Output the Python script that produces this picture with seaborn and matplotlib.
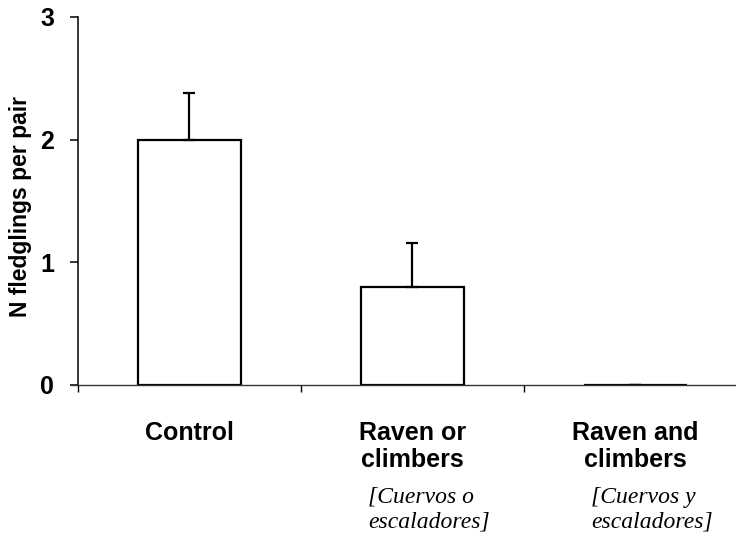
import matplotlib
matplotlib.use("Agg")
import matplotlib.pyplot as plt
import seaborn as sns

# Data
categories = ["Control", "Raven or\nclimbers", "Raven and\nclimbers"]
spanish_labels = ["", "[Cuervos o\nescaladores]", "[Cuervos y\nescaladores]"]
fledglings = [2.0, 0.8, 0.0]
upper_err = [0.38, 0.36, 0.0]
y_ticks = [0, 1, 2, 3]

sns.set_theme(style="white")
plt.rcParams["font.family"] = ["Liberation Sans", "DejaVu Sans"]
plt.rcParams["text.color"] = "black"
plt.rcParams["xtick.color"] = "black"
plt.rcParams["ytick.color"] = "black"
plt.rcParams["axes.labelcolor"] = "black"

fig = plt.figure(figsize=(7.36, 5.37), dpi=100)
ax = fig.add_axes([71 / 736, 1 - 385 / 537, 665 / 736, 368 / 537])

sns.barplot(x=categories, y=fledglings, color="white", edgecolor="black",
            linewidth=1.6, width=0.46, errorbar=None, saturation=1, ax=ax)
for b in ax.patches:
    b.set_facecolor("white")

# upper error bars only
ax.errorbar(range(len(categories)), fledglings,
            yerr=[[0] * len(upper_err), upper_err],
            fmt="none", ecolor="black", elinewidth=1.6, capsize=4, capthick=1.6)

# spine position first: it resets the axis tick settings
for s in ["top", "right"]:
    ax.spines[s].set_visible(False)
ax.spines["left"].set_position(("data", -0.5))
ax.spines["left"].set_color("black")
ax.spines["left"].set_linewidth(1.1)
ax.spines["bottom"].set_color("#333333")
ax.spines["bottom"].set_linewidth(1.0)

ax.set_ylim(0, 3)
ax.set_xlim(-0.531, 2.451)
ax.set_yticks(y_ticks)
ax.set_yticklabels([str(t) for t in y_ticks], fontsize=18, fontweight="bold")
ax.set_xticks(range(len(categories)))
ax.set_xticklabels(categories, fontsize=18, fontweight="bold", linespacing=1.15)
ax.set_xticks([-0.5, 0.5, 1.5], minor=True)
ax.tick_params(axis="x", which="major", length=0, pad=26)
ax.tick_params(axis="x", which="minor", length=5, width=1, direction="out", bottom=True)
ax.tick_params(axis="y", length=6, width=1.1, direction="out", pad=11, left=True)

ax.set_xlabel("")
ax.set_ylabel("N fledglings per pair", fontsize=16.5, fontweight="bold")
ax.yaxis.set_label_coords(-0.058, 0.485)

for i, txt in enumerate(spanish_labels):
    if txt:
        ax.text(i - 0.2, -0.276, txt, transform=ax.get_xaxis_transform(),
                ha="left", va="top", fontsize=17, fontstyle="italic",
                family=["Liberation Serif", "DejaVu Serif"], linespacing=1.22)

fig.savefig("out.png", dpi=100)
